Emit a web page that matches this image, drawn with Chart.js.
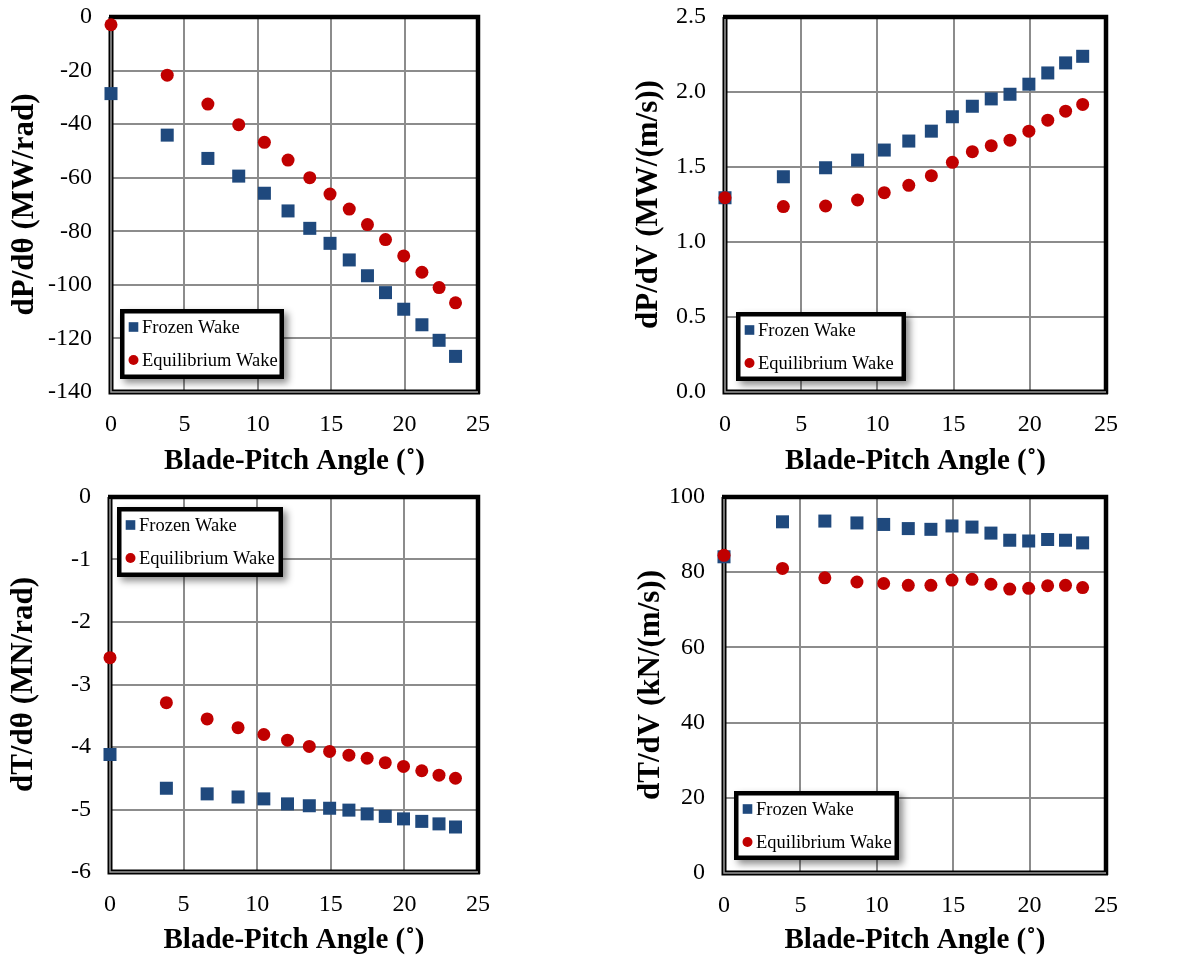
<!DOCTYPE html>
<html>
<head>
<meta charset="utf-8">
<script src="https://cdn.jsdelivr.net/npm/chart.js@4.4.1/dist/chart.umd.min.js"></script>
<style>
  body { margin: 0; background: #fff; }
  #wrap { position: relative; width: 1195px; height: 958px; }
  canvas { position: absolute; }
</style>
</head>
<body>
<div id="wrap">
  <canvas id="c1" width="597" height="479" style="left:0;top:0"></canvas>
  <canvas id="c2" width="598" height="479" style="left:597px;top:0"></canvas>
  <canvas id="c3" width="597" height="479" style="left:0;top:479px"></canvas>
  <canvas id="c4" width="598" height="479" style="left:597px;top:479px"></canvas>
</div>
<script>
// blade-pitch angles (deg)
const pitchAngles = [0, 3.83, 6.60, 8.70, 10.45, 12.06, 13.54, 14.92, 16.23, 17.47, 18.70, 19.94, 21.18, 22.35, 23.47];
const seriesLabels = ['Frozen Wake', 'Equilibrium Wake'];

// dP/dtheta (MW/rad)
const dPdThetaFrozen = [-28.6, -44.1, -52.8, -59.4, -65.8, -72.4, -78.9, -84.5, -90.7, -96.6, -102.9, -109.1, -114.9, -120.7, -126.7];
const dPdThetaEquil  = [-2.9, -21.7, -32.5, -40.2, -46.8, -53.4, -60.0, -66.1, -71.7, -77.5, -83.1, -89.2, -95.3, -101.0, -106.7];

// dP/dV (MW/(m/s))
const dPdVFrozen = [1.295, 1.435, 1.495, 1.546, 1.613, 1.673, 1.739, 1.835, 1.905, 1.954, 1.985, 2.052, 2.127, 2.194, 2.238];
const dPdVEquil  = [1.295, 1.236, 1.240, 1.280, 1.329, 1.378, 1.442, 1.531, 1.602, 1.642, 1.679, 1.739, 1.812, 1.872, 1.917];

// dT/dtheta (MN/rad)
const dTdThetaFrozen = [-4.12, -4.66, -4.75, -4.80, -4.83, -4.91, -4.94, -4.98, -5.01, -5.07, -5.11, -5.15, -5.19, -5.23, -5.28];
const dTdThetaEquil  = [-2.57, -3.29, -3.55, -3.69, -3.80, -3.89, -3.99, -4.07, -4.13, -4.18, -4.25, -4.31, -4.38, -4.45, -4.50];

// dT/dV (kN/(m/s))
const dTdVFrozen = [84.1, 93.4, 93.6, 93.1, 92.7, 91.6, 91.4, 92.3, 92.0, 90.4, 88.5, 88.3, 88.7, 88.5, 87.8];
const dTdVEquil  = [84.5, 81.0, 78.5, 77.4, 77.0, 76.5, 76.5, 77.9, 78.1, 76.8, 75.5, 75.7, 76.4, 76.5, 75.9];

const BLUE = '#1F497D';
const RED = '#C00000';
const SERIF = '"Liberation Serif", "Times New Roman", serif';

Chart.defaults.font.family = SERIF;
Chart.defaults.color = '#000';

function toPoints(xs, ys) {
  return xs.map((x, i) => ({ x: x, y: ys[i] }));
}

// plot frame: thick black top/right, double line left/bottom
const framePlugin = {
  id: 'frame',
  beforeDatasetsDraw(chart) {
    const { ctx } = chart;
    const { left, top, right, bottom } = chart.chartArea;
    ctx.save();
    ctx.strokeStyle = '#000';
    ctx.lineWidth = 4.5;
    ctx.beginPath();
    ctx.moveTo(left - 2, top);
    ctx.lineTo(right, top);
    ctx.lineTo(right, bottom + 2);
    ctx.stroke();
    ctx.lineWidth = 5;
    ctx.beginPath();
    ctx.moveTo(left, top);
    ctx.lineTo(left, bottom);
    ctx.lineTo(right + 2, bottom);
    ctx.stroke();
    ctx.strokeStyle = '#9a9a9a';
    ctx.lineWidth = 1.5;
    ctx.beginPath();
    ctx.moveTo(left, top + 2);
    ctx.lineTo(left, bottom);
    ctx.lineTo(right, bottom);
    ctx.stroke();
    ctx.restore();
  }
};

// boxed legend inside the plot area
const boxLegendPlugin = {
  id: 'boxLegend',
  afterDatasetsDraw(chart, args, opts) {
    const { ctx } = chart;
    const { x, y, w, h } = opts;
    ctx.save();
    ctx.shadowColor = 'rgba(0,0,0,0.45)';
    ctx.shadowBlur = 7;
    ctx.shadowOffsetX = 4;
    ctx.shadowOffsetY = 4;
    ctx.fillStyle = '#fff';
    ctx.fillRect(x, y, w, h);
    ctx.shadowColor = 'transparent';
    ctx.strokeStyle = '#000';
    ctx.lineWidth = 4.5;
    ctx.strokeRect(x + 2.25, y + 2.25, w - 4.5, h - 4.5);

    ctx.font = '18.5px ' + SERIF;
    ctx.textBaseline = 'middle';
    ctx.textAlign = 'left';
    const rows = [18, 51];
    const order = [1, 0]; // Frozen first, Equilibrium second
    order.forEach((di, r) => {
      const ds = chart.data.datasets[di];
      const cy = y + rows[r];
      const cx = x + 13.5;
      ctx.fillStyle = ds.backgroundColor;
      if (ds.pointStyle === 'rect') {
        ctx.fillRect(cx - 4.8, cy - 4.8, 9.6, 9.6);
      } else {
        ctx.beginPath();
        ctx.arc(cx, cy, 5, 0, Math.PI * 2);
        ctx.fill();
      }
      ctx.fillStyle = '#000';
      ctx.fillText(ds.label, x + 22, cy + 1);
    });
    ctx.restore();
  }
};

function makeChart(id, opt) {
  const ctx = document.getElementById(id).getContext('2d');
  return new Chart(ctx, {
    type: 'scatter',
    data: {
      datasets: [
        {
          label: seriesLabels[1],
          data: toPoints(pitchAngles, opt.equil),
          pointStyle: 'circle',
          radius: 6.5,
          backgroundColor: RED,
          borderColor: RED,
          borderWidth: 0,
          clip: false,
          order: 1
        },
        {
          label: seriesLabels[0],
          data: toPoints(pitchAngles, opt.frozen),
          pointStyle: 'rect',
          radius: 9.2,
          backgroundColor: BLUE,
          borderColor: BLUE,
          borderWidth: 0,
          clip: false,
          order: 2
        }
      ]
    },
    options: {
      responsive: false,
      animation: false,
      devicePixelRatio: 1,
      layout: { autoPadding: false, padding: { top: opt.top, right: opt.right, left: 0, bottom: 0 } },
      plugins: {
        legend: { display: false },
        tooltip: { enabled: false },
        boxLegend: opt.legend
      },
      scales: {
        x: {
          type: 'linear',
          min: 0,
          max: 25,
          afterFit(scale) {
            scale.height = opt.xh;
            scale.paddingLeft = 0;
            scale.paddingRight = 0;
          },
          ticks: { stepSize: 5, padding: 18, font: { size: 24 }, color: '#000' },
          grid: { color: '#8c8c8c', lineWidth: 2, drawTicks: false },
          border: { display: false },
          title: {
            display: true,
            text: 'Blade-Pitch Angle (˚)',
            font: { size: 29, weight: 'bold' },
            padding: { top: 0, bottom: 0 }
          }
        },
        y: {
          type: 'linear',
          min: opt.ymin,
          max: opt.ymax,
          afterFit(scale) {
            scale.width = opt.yw;
            // tick-label overhang is already covered by the layout padding
            scale.paddingTop = 0;
            scale.paddingBottom = 0;
          },
          ticks: {
            stepSize: opt.step,
            padding: 19,
            font: { size: 24 },
            color: '#000',
            callback: (v) => opt.decimals ? v.toFixed(opt.decimals) : String(v)
          },
          grid: { color: '#8c8c8c', lineWidth: 2, drawTicks: false },
          border: { display: false },
          title: {
            display: true,
            text: opt.ytitle,
            font: { size: 31, weight: 'bold' },
            padding: { top: opt.ytpad, bottom: 0 }
          }
        }
      }
    },
    plugins: [framePlugin, boxLegendPlugin]
  });
}

makeChart('c1', {
  frozen: dPdThetaFrozen, equil: dPdThetaEquil,
  ymin: -140, ymax: 0, step: 20, decimals: 0,
  ytitle: 'dP/dθ (MW/rad)', ytpad: 6,
  top: 17, right: 119, yw: 111, xh: 87,
  legend: { x: 120, y: 309, w: 164, h: 70 }
});

makeChart('c2', {
  frozen: dPdVFrozen, equil: dPdVEquil,
  ymin: 0, ymax: 2.5, step: 0.5, decimals: 1,
  ytitle: 'dP/dV (MW/(m/s))', ytpad: 33,
  top: 17, right: 89, yw: 128, xh: 87,
  legend: { x: 139, y: 312, w: 170, h: 69 }
});

makeChart('c3', {
  frozen: dTdThetaFrozen, equil: dTdThetaEquil,
  ymin: -6, ymax: 0, step: 1, decimals: 0,
  ytitle: 'dT/dθ (MN/rad)', ytpad: 5,
  top: 18, right: 119, yw: 110, xh: 86,
  legend: { x: 117, y: 28, w: 166, h: 70 }
});

makeChart('c4', {
  frozen: dTdVFrozen, equil: dTdVEquil,
  ymin: 0, ymax: 100, step: 20, decimals: 0,
  ytitle: 'dT/dV (kN/(m/s))', ytpad: 35,
  top: 18, right: 89, yw: 127, xh: 85,
  legend: { x: 137, y: 312, w: 165, h: 69 }
});
</script>
</body>
</html>
